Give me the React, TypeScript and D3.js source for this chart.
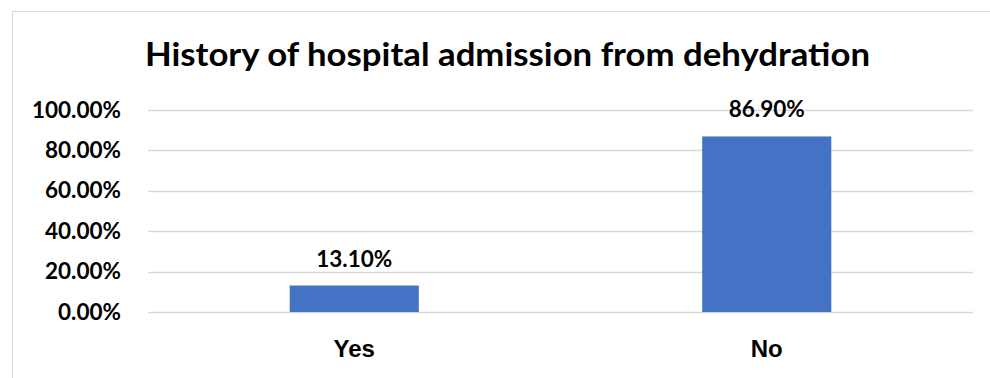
import React from "react";
import * as d3 from "d3";

const title = "History of hospital admission from dehydration";
const categories = ["Yes", "No"];
const values = [0.131, 0.869];
const dataLabels = ["13.10%", "86.90%"];
const yTicks = [0, 0.2, 0.4, 0.6, 0.8, 1.0];

const W = 990;
const H = 378;
const plot = { left: 148, right: 973, top: 110, bottom: 312 };

export default function App() {
  const x = d3
    .scaleBand<string>()
    .domain(categories)
    .range([plot.left, plot.right])
    .paddingInner(0.687)
    .paddingOuter(0.3435);
  const y = d3.scaleLinear().domain([0, 1]).range([plot.bottom, plot.top]);
  const fmt = d3.format(".2%");
  const calibriLike = "Lato, 'Noto Sans', sans-serif";

  return (
    <svg
      width={W}
      height={H}
      style={{ position: "absolute", left: 0, top: 0, background: "#fff" }}
    >
      <rect x={0} y={0} width={W} height={H} fill="#fff" />
      <rect
        x={12.5}
        y={11.5}
        width={1000}
        height={400}
        fill="#fff"
        stroke="#d9d9d9"
        strokeWidth={1}
      />
      <text
        x={507.5}
        y={66}
        textAnchor="middle"
        fontFamily={calibriLike}
        fontWeight={700}
        fontSize={33}
        textLength={725}
        lengthAdjust="spacingAndGlyphs"
        fill="#000"
      >
        {title}
      </text>
      {yTicks.map((t) => (
        <g key={t}>
          <line
            x1={plot.left}
            x2={plot.right}
            y1={Math.round(y(t)) + 0.5}
            y2={Math.round(y(t)) + 0.5}
            stroke="#d9d9d9"
            strokeWidth={1.3}
          />
          <text
            x={121}
            y={y(t) + 7.5}
            textAnchor="end"
            fontFamily={calibriLike}
            fontWeight={700}
            fontSize={22.5}
            fill="#000"
          >
            {fmt(t)}
          </text>
        </g>
      ))}
      {categories.map((c, i) => (
        <g key={c}>
          <rect
            x={x(c)}
            y={y(values[i])}
            width={x.bandwidth()}
            height={y(0) - y(values[i])}
            fill="#4472c4"
          />
          <text
            x={(x(c) as number) + x.bandwidth() / 2}
            y={y(values[i]) - 19}
            textAnchor="middle"
            fontFamily={calibriLike}
            fontWeight={700}
            fontSize={22.5}
            fill="#000"
          >
            {dataLabels[i]}
          </text>
          <text
            x={(x(c) as number) + x.bandwidth() / 2}
            y={357}
            textAnchor="middle"
            fontFamily="'Liberation Sans', Arial, sans-serif"
            fontWeight={700}
            fontSize={24}
            fill="#000"
          >
            {c}
          </text>
        </g>
      ))}
    </svg>
  );
}
